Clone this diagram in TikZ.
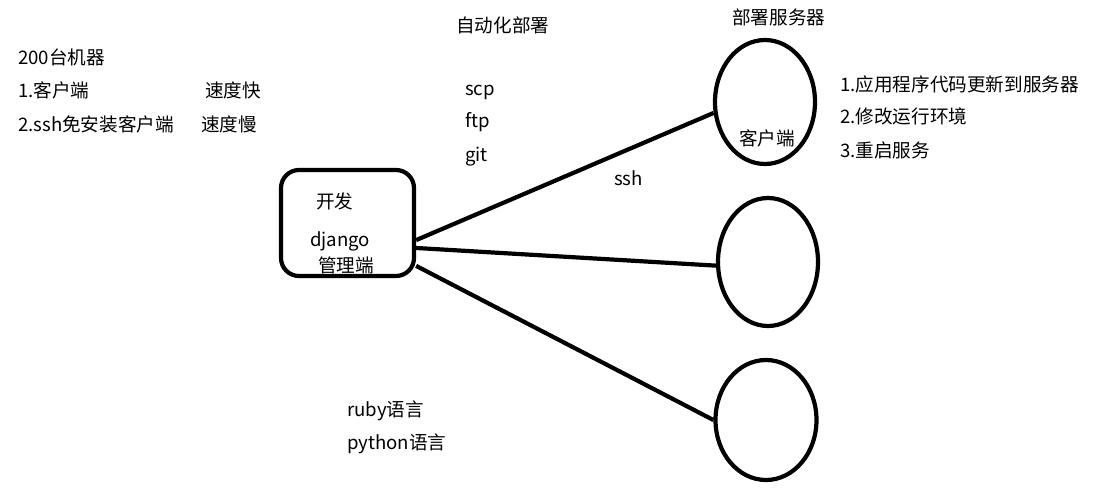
\documentclass[tikz,border=0pt]{standalone}
\usepackage{fontspec}
\setmainfont{Noto Sans CJK SC}
\usetikzlibrary{shapes.geometric}
\begin{document}
\begin{tikzpicture}[x=1pt,y=-1pt,
  txt/.style={anchor=west,inner sep=0pt,text height=18pt,text depth=2pt,font=\fontsize{18.6}{21}\selectfont},
  thick line/.style={line width=4.2pt},
  devbox/.style={draw,line width=4.2pt,rounded corners=18pt,minimum width=133pt,minimum height=106pt,inner sep=0pt},
  server/.style={draw,line width=4.2pt,ellipse,inner sep=0pt}]
\useasboundingbox[fill=white] (0,0) rectangle (1098,498);
% left notes
\node[txt] (t1) at (18,56) {200台机器};
\node[txt] (t2) at (18,89) {1.客户端};
\node[txt] (t3) at (205,89) {速度快};
\node[txt] (t4) at (18,123) {2.ssh免安装客户端};
\node[txt] (t5) at (201,123) {速度慢};
% middle top
\node[txt] (t6) at (456,24) {自动化部署};
\node[txt] (t7) at (465,87) {scp};
\node[txt] (t8) at (465,119) {ftp};
\node[txt] (t9) at (465,153) {git};
\node[txt] (ssh) at (614,177) {ssh};
% right
\node[txt] (t10) at (732,16) {部署服务器};
\node[txt] (r1) at (840,83) {1.应用程序代码更新到服务器};
\node[txt] (r2) at (840,115) {2.修改运行环境};
\node[txt] (r3) at (840,149) {3.重启服务};
% bottom
\node[txt] (b1) at (347,408) {ruby语言};
\node[txt] (b2) at (347,441) {python语言};
% dev box
\node[devbox] (dev) at (347.5,223) {};
\node[txt] (k1) at (316,200) {开发};
\node[txt] (k2) at (310,238) {django};
\node[txt] (k3) at (318,264) {管理端};
% servers
\node[server,minimum width=100pt,minimum height=124pt] (s1) at (765,102) {};
\node[txt] (c1) at (739,137) {客户端};
\node[server,minimum width=100pt,minimum height=128pt] (s2) at (768,262) {};
\node[server,minimum width=101pt,minimum height=120pt] (s3) at (766,420) {};
% connectors
\draw[thick line] (dev.-14) -- (s1.192);
\draw[thick line] (dev.-20.6) -- (s2.184);
\draw[thick line] (dev.-32.7) -- (s3.180);
\end{tikzpicture}
\end{document}
